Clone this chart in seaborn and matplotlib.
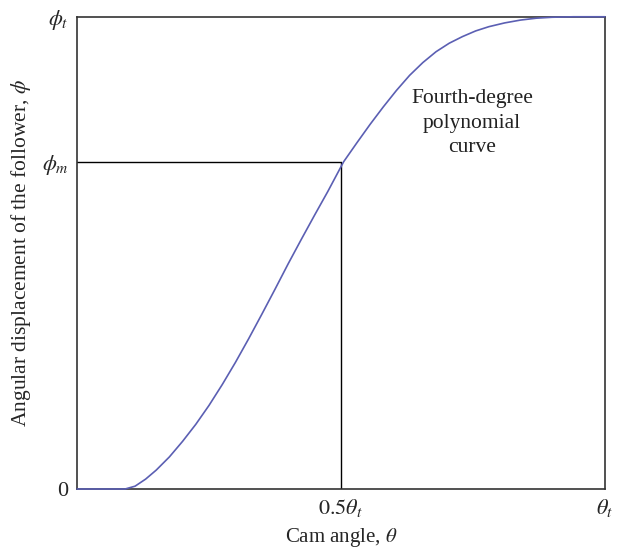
import matplotlib
matplotlib.use("Agg")
import matplotlib.pyplot as plt
import seaborn as sns
import pandas as pd

sns.set_theme(style="white")
plt.rcParams['font.family'] = ['Liberation Serif', 'DejaVu Serif']
plt.rcParams['mathtext.fontset'] = 'stix'

# Curve (theta / theta_t, phi / phi_t)
theta = [0.0, 0.05, 0.091, 0.11, 0.13, 0.15, 0.175, 0.20, 0.225, 0.25, 0.275,
         0.30, 0.325, 0.35, 0.375, 0.40, 0.425, 0.45, 0.475, 0.505,
         0.53, 0.555, 0.58, 0.605, 0.63, 0.655, 0.68, 0.705, 0.73, 0.755,
         0.78, 0.81, 0.84, 0.87, 0.90, 0.94, 1.0]
phi = [0.0, 0.0, 0.0, 0.006, 0.021, 0.040, 0.068, 0.101, 0.137, 0.177, 0.221,
       0.268, 0.318, 0.370, 0.423, 0.477, 0.529, 0.580, 0.630, 0.693,
       0.733, 0.772, 0.809, 0.844, 0.876, 0.903, 0.926, 0.944, 0.958, 0.970,
       0.979, 0.987, 0.993, 0.997, 0.999, 1.0, 1.0]

phi_m = 0.693
theta_half = 0.5
x_ticks = [0.5, 1.0]
x_ticklabels = [r'$0.5\theta_t$', r'$\theta_t$']
y_ticks = [0.0, phi_m, 1.0]
y_ticklabels = ['0', r'$\phi_m$', r'$\phi_t$']

df = pd.DataFrame({'theta': theta, 'phi': phi})

fig = plt.figure(figsize=(6.23, 5.59), dpi=100)
ax = fig.add_axes([0.1236, 0.1252, 0.8475, 0.8448])

ax.plot([0, theta_half], [phi_m, phi_m], color='black', lw=1.0)
ax.plot([theta_half, theta_half], [0, phi_m], color='black', lw=1.0)
sns.lineplot(data=df, x='theta', y='phi', ax=ax, color='#5b5fb3', lw=1.2,
             clip_on=False, zorder=5)

ax.set_xlim(0, 1)
ax.set_ylim(0, 1)
ax.set_xticks(x_ticks)
ax.set_xticklabels(x_ticklabels, fontsize=16)
ax.set_yticks(y_ticks)
ax.set_yticklabels(y_ticklabels, fontsize=16)
ax.tick_params(length=0, pad=6)
for s in ax.spines.values():
    s.set_color('#333333')
    s.set_linewidth(1.2)

ax.set_xlabel(r'Cam angle, $\theta$', fontsize=15, labelpad=5)
ax.set_ylabel(r'Angular displacement of the follower, $\phi$', fontsize=15.5, labelpad=6)

ax.text(0.748, 0.775, 'Fourth-degree\npolynomial\ncurve', transform=ax.transAxes,
        ha='center', va='center', fontsize=15.5, linespacing=1.4, color='#222222')

fig.savefig('out.png', dpi=100)
